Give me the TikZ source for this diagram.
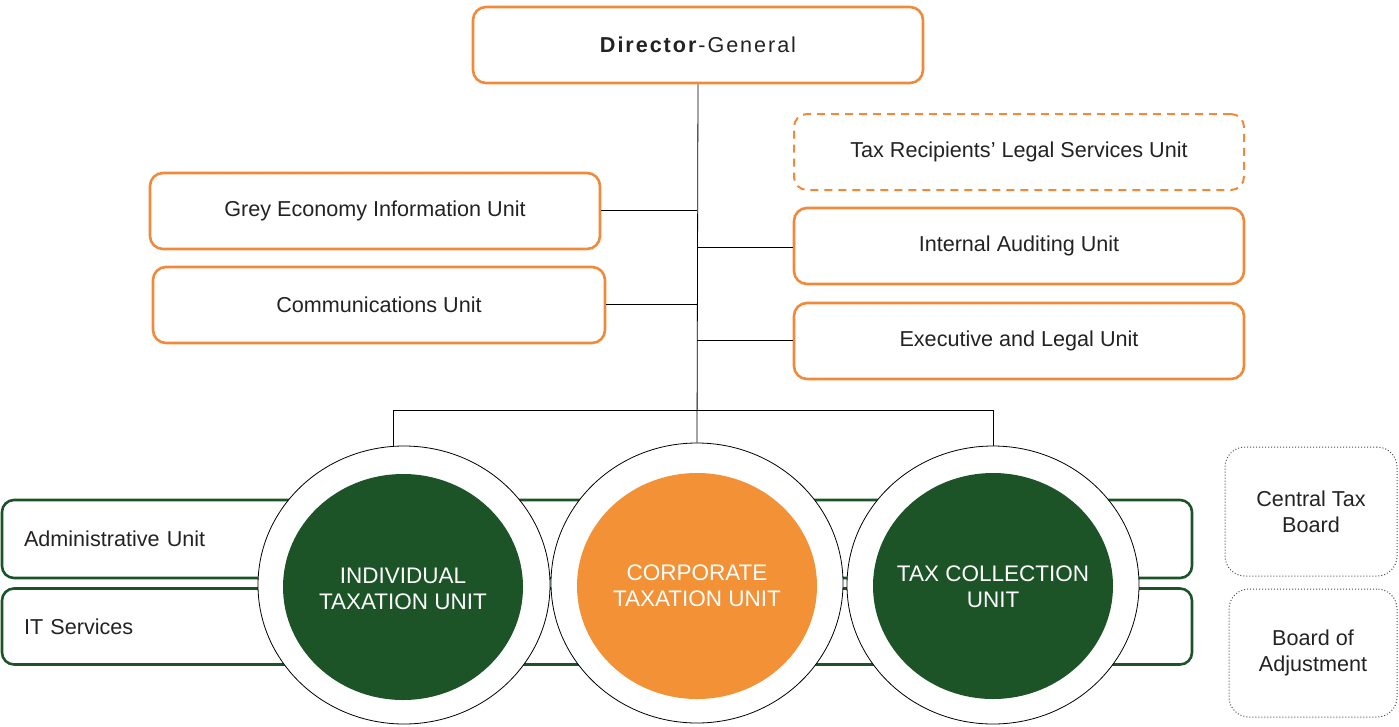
\documentclass[tikz,border=0pt]{standalone}
\usepackage{fontspec}
\setmainfont{Liberation Sans}
\usetikzlibrary{shapes.geometric}
\definecolor{org}{RGB}{240,138,58}
\definecolor{orgfill}{RGB}{243,145,55}
\definecolor{dgreen}{RGB}{28,84,40}
\definecolor{txt}{RGB}{35,35,35}
\tikzset{
  obox/.style={draw=org, line width=2.6pt, rounded corners=13pt, fill=white,
    minimum width=450pt, minimum height=76pt, inner sep=0pt, text=txt,
    font=\fontsize{21.6}{26}\selectfont},
  dbox/.style={obox, dash pattern=on 8pt off 6pt, line width=2pt},
  gbar/.style={draw=dgreen, line width=2.6pt, rounded corners=12pt, fill=white,
    minimum height=76pt, text width=1146pt, align=left, inner xsep=22pt, inner ysep=0pt,
    text=txt, font=\fontsize{21.6}{26}\selectfont},
  outer/.style={ellipse, draw=black, line width=0.8pt, fill=white, inner sep=0pt},
  inner/.style={ellipse, inner sep=0pt, minimum width=240pt, minimum height=226pt},
  ctext/.style={text=white, align=center, inner sep=0pt, font=\fontsize{22.5}{26}\selectfont},
  gbox/.style={draw=black!70, dotted, line width=1pt, rounded corners=20pt,
    inner sep=0pt, align=center, text=txt, font=\fontsize{21.6}{26}\selectfont},
  conn/.style={draw=black, line width=0.8pt}
}
\begin{document}
\begin{tikzpicture}[x=1pt,y=-1pt]
\useasboundingbox (0,0) rectangle (1399,726);
% top boxes
\node[obox] (dg) at (698,45) {\addfontfeature{LetterSpace=9}\textbf{Director}-General};
\node[obox] (grey) at (375,211) {Grey Economy Information Unit};
\node[obox, minimum width=452pt] (comm) at (379,305) {Communications Unit};
\node[dbox] (trl) at (1019,152) {Tax Recipients’ Legal Services Unit};
\node[obox] (iau) at (1019,246) {Internal Auditing Unit};
\node[obox] (elu) at (1019,341) {Executive and Legal Unit};
% green bars
\node[gbar, minimum height=78pt] (adm) at (597,539) {Administrative Unit};
\node[gbar] (its) at (597,626.5) {IT Services};
% circles
\node[outer, minimum width=292pt, minimum height=278pt] (c1) at (404,585) {};
\node[outer, minimum width=292pt, minimum height=280pt] (c2) at (697,583) {};
\node[outer, minimum width=292pt, minimum height=278pt] (c3) at (993,585) {};
\node[inner, fill=dgreen] (i1) at (403,587) {};
\node[inner, fill=orgfill] (i2) at (697,586) {};
\node[inner, fill=dgreen] (i3) at (993,586) {};
\node[ctext] (t1) at ([yshift=-2pt]i1.center) {INDIVIDUAL\\TAXATION UNIT};
\node[ctext] (t2) at (i2.center) {CORPORATE\\TAXATION UNIT};
\node[ctext] (t3) at ([yshift=-1pt]i3.center) {TAX COLLECTION\\UNIT};
% right boxes
\node[gbox, minimum width=172pt, minimum height=129pt] (ctb) at (1311,511.5) {Central Tax\\Board};
\node[gbox, minimum width=168pt, minimum height=128pt] (boa) at (1313,653) {Board of\\Adjustment};
% connectors
\coordinate (jg) at (697,210);
\coordinate (jc) at (697,304);
\coordinate (ji) at (697,247);
\coordinate (je) at (697,340);
\coordinate (jl) at (393,410);
\coordinate (jr) at (993,410);
\draw[conn] (dg.south) -- (c2.north);
\draw[conn] (grey.east |- jg) -- (jg);
\draw[conn] (comm.east |- jc) -- (jc);
\draw[conn] (ji) -- (iau.west |- ji);
\draw[conn] (je) -- (elu.west |- je);
\draw[conn] (jl) -- (jr);
\draw[conn] (jl) -- (jl |- c1.north);
\draw[conn] (jr) -- (jr |- c3.north);
\end{tikzpicture}
\end{document}
